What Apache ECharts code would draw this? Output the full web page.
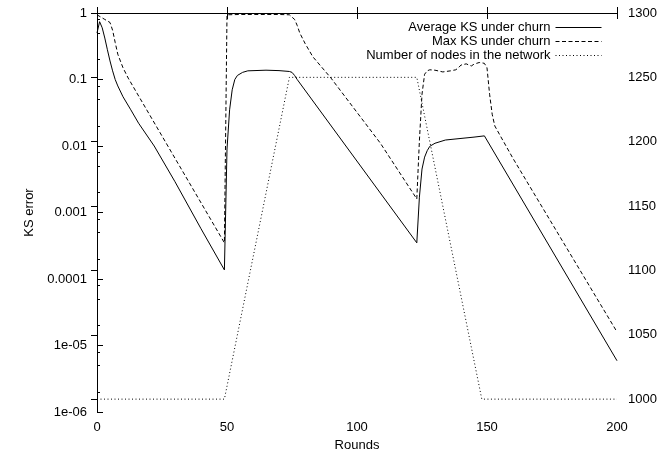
<!DOCTYPE html>
<html>
<head>
<meta charset="utf-8">
<script src="https://cdn.jsdelivr.net/npm/echarts@6/dist/echarts.min.js"></script>
<style>html,body{margin:0;padding:0;background:#fff;}#c{width:661px;height:457px;}</style>
</head>
<body>
<div id="c"></div>
<script>
const seriesNames = ['Average KS under churn', 'Max KS under churn', 'Number of nodes in the network'];

const avgRounds = [0,1,2,3,4,5,6,7,8,10,13,16,22,30,40,49, 50,51,52,53,54,56,58,65,70,74,75,76,77,123, 124,125,126,127,128,130,134,140,145,149,200];
const avgValues = [0.5,0.74,0.6,0.42,0.28,0.19,0.135,0.1,0.08,0.055,0.035,0.022,0.01,0.0029,0.00057,0.000137, 0.009,0.035,0.07,0.1,0.115,0.128,0.135,0.138,0.136,0.132,0.128,0.115,0.1,0.00035, 0.0017,0.0045,0.0068,0.0085,0.0099,0.011,0.0123,0.013,0.0136,0.0142,0.0000059];

const maxRounds = [0,3,5,6,7,8,10,12,15,49, 50,55,60,70,74,76,77,78,80,83,90,109,123, 124,125,126,127,128,130,133,136,138,139,140,141,142,143,144,145,146,147,148,149,150,151,152,153,155,160,200];
const maxValues = [0.94,0.8,0.72,0.55,0.36,0.24,0.15,0.105,0.066,0.00035, 0.94,0.95,0.95,0.95,0.94,0.8,0.65,0.5,0.35,0.22,0.105,0.011,0.0016, 0.012,0.06,0.12,0.135,0.14,0.138,0.13,0.135,0.14,0.15,0.165,0.168,0.172,0.165,0.16,0.17,0.175,0.18,0.178,0.175,0.15,0.06,0.03,0.02,0.0145,0.0065,0.000016];

const nodeRounds = [0,49,74,123,148,200];
const nodeValues = [1000,1000,1250,1250,1000,1000];

const xTicks = [0,50,100,150,200];
const leftTickLabels = {'-6':'1e-06','-5':'1e-05','-4':'0.0001','-3':'0.001','-2':'0.01','-1':'0.1','0':'1'};
const leftMinorMantissas = [2,5,8];
const rightTicks = [1000,1050,1100,1150,1200,1250,1300];

function zip(a, b) { return a.map((x, i) => [x, b[i]]); }

const minorTickPos = [];
for (let k = -6; k < 0; k++) {
  leftMinorMantissas.forEach(m => minorTickPos.push(k + Math.log10(m)));
}

const font = 'Liberation Sans, Arial, Helvetica, sans-serif';
const black = '#000';
const fs = 13;

const chart = echarts.init(document.getElementById('c'), null, {renderer: 'canvas'});
chart.setOption({
  animation: false,
  backgroundColor: '#fff',
  textStyle: {fontFamily: font, color: black},
  grid: {left: 97, right: 44, top: 13, bottom: 44, containLabel: false},
  legend: {
    orient: 'vertical', right: 59, top: 21, padding: 0,
    align: 'right', itemWidth: 46, itemHeight: 14, itemGap: 1,
    itemStyle: {opacity: 0},
    lineStyle: {width: 1},
    textStyle: {fontFamily: font, fontSize: fs, color: black},
    data: seriesNames
  },
  xAxis: [{
    type: 'value', position: 'bottom', min: 0, max: 200, interval: 50,
    name: 'Rounds', nameLocation: 'middle', nameGap: 27,
    nameTextStyle: {fontFamily: font, fontSize: fs, color: black},
    axisLine: {show: true, lineStyle: {color: black, width: 1}},
    axisTick: {show: true, inside: true, length: 6, lineStyle: {color: black}},
    axisLabel: {fontFamily: font, fontSize: fs, color: black, margin: 9,
      customValues: xTicks},
    splitLine: {show: false}
  }, {
    type: 'value', position: 'top', min: 0, max: 200, interval: 50,
    axisLine: {show: true, lineStyle: {color: black, width: 1}},
    axisTick: {show: true, inside: true, length: 6, lineStyle: {color: black}},
    axisLabel: {show: false},
    splitLine: {show: false}
  }],
  yAxis: [{
    type: 'log', logBase: 10, min: 1e-6, max: 1, splitNumber: 6, position: 'left',
    name: 'KS error', nameLocation: 'middle', nameGap: 60,
    nameTextStyle: {fontFamily: font, fontSize: fs, color: black},
    axisLine: {show: true, lineStyle: {color: black, width: 1}},
    axisTick: {show: true, inside: true, length: 6, lineStyle: {color: black}},
    axisLabel: {fontFamily: font, fontSize: fs, color: black, margin: 10,
      formatter: v => leftTickLabels[String(Math.round(Math.log10(v)))] || ''},
    splitLine: {show: false}
  }, {
    type: 'value', position: 'right', min: 990, max: 1300,
    axisLine: {show: true, lineStyle: {color: black, width: 1}},
    axisTick: {show: true, inside: true, length: 6, lineStyle: {color: black}, customValues: rightTicks},
    axisLabel: {fontFamily: font, fontSize: fs, color: black, margin: 11, customValues: rightTicks,
      formatter: v => String(v)},
    splitLine: {show: false}
  }, {
    type: 'value', position: 'left', min: -6, max: 0, offset: 0,
    axisLine: {show: true, lineStyle: {color: black, width: 1}},
    axisTick: {show: true, inside: true, length: 3, lineStyle: {color: black}, customValues: minorTickPos},
    axisLabel: {show: true, customValues: minorTickPos, formatter: () => ''},
    splitLine: {show: false}
  }],
  series: [{
    name: seriesNames[0], type: 'line', xAxisIndex: 0, yAxisIndex: 0,
    data: zip(avgRounds, avgValues), symbol: 'none', showSymbol: false,
    lineStyle: {color: black, width: 1, type: 'solid'}, itemStyle: {color: black}
  }, {
    name: seriesNames[1], type: 'line', xAxisIndex: 0, yAxisIndex: 0,
    data: zip(maxRounds, maxValues), symbol: 'none', showSymbol: false,
    lineStyle: {color: black, width: 1, type: [4, 2.5]}, itemStyle: {color: black}
  }, {
    name: seriesNames[2], type: 'line', xAxisIndex: 0, yAxisIndex: 1,
    data: zip(nodeRounds, nodeValues), symbol: 'none', showSymbol: false,
    lineStyle: {color: black, width: 1, type: [1, 2.5]}, itemStyle: {color: black}
  }]
});
</script>
</body>
</html>
